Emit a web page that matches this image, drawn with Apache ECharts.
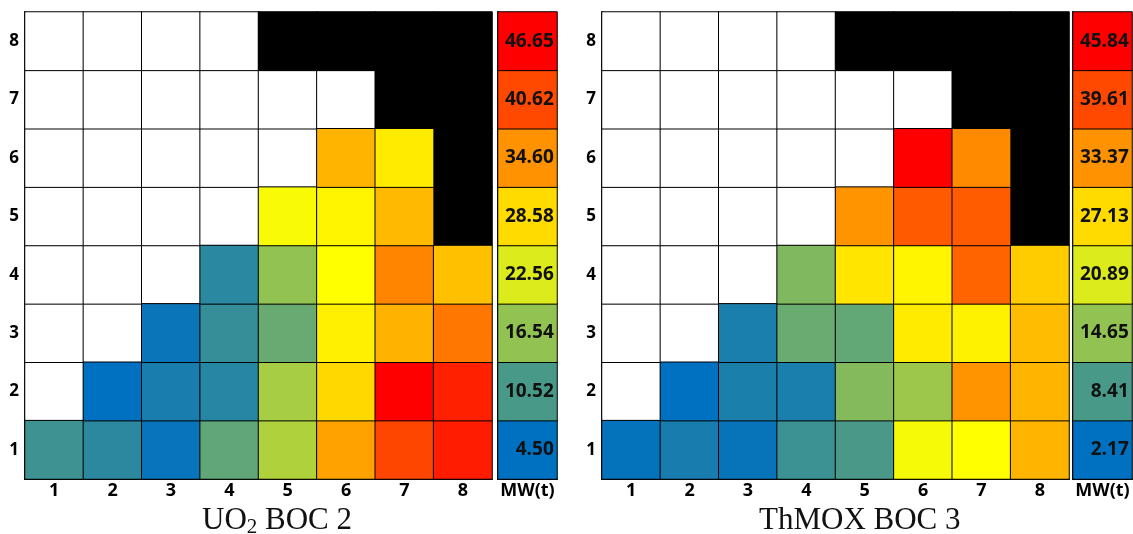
<!DOCTYPE html>
<html>
<head>
<meta charset="utf-8">
<script src="https://cdn.jsdelivr.net/npm/echarts@6/dist/echarts.min.js"></script>
<style>
html,body{margin:0;padding:0;background:#fff;}
#chart{width:1133px;height:534px;}
</style>
</head>
<body>
<div id="chart"></div>
<script>
// ---- DATA ----
const xCats = ['1', '2', '3', '4', '5', '6', '7', '8'];
const yCats = ['1', '2', '3', '4', '5', '6', '7', '8'];
const unitLabel = 'MW(t)';

// Colour-scale tick labels (bottom to top)
const uo2Scale = [4.50, 10.52, 16.54, 22.56, 28.58, 34.60, 40.62, 46.65];
const thmoxScale = [2.17, 8.41, 14.65, 20.89, 27.13, 33.37, 39.61, 45.84];

// Assembly power, rows y=1 (bottom) .. y=8 (top), columns x=1..8; null = no value
const uo2Power = [
  [9.6, 8.1, 5.1, 12.4, 19.0, 33.3, 40.9, 44.3],
  [null, 4.5, 6.6, 7.7, 18.2, 28.8, 46.65, 44.0],
  [null, null, 5.3, 8.9, 13.1, 26.9, 31.9, 36.9],
  [null, null, null, 8.0, 16.6, 25.6, 35.7, 30.8],
  [null, null, null, null, 25.0, 26.4, 31.3, null],
  [null, null, null, null, null, 31.7, 27.2, null],
  [null, null, null, null, null, null, null, null],
  [null, null, null, null, null, null, null, null]
];
const thmoxPower = [
  [2.6, 4.2, 2.8, 7.3, 8.5, 23.2, 24.0, 30.3],
  [null, 2.17, 4.5, 4.4, 13.5, 15.5, 33.2, 30.3],
  [null, null, 4.4, 11.2, 10.6, 25.7, 25.1, 29.7],
  [null, null, null, 13.1, 26.2, 24.9, 37.3, 28.4],
  [null, null, null, null, 33.2, 38.1, 38.0, null],
  [null, null, null, null, null, 45.84, 34.0, null],
  [null, null, null, null, null, null, null, null],
  [null, null, null, null, null, null, null, null]
];
// Cells outside the core (drawn black), as [x, y]
const outsideCells = [[5, 8], [6, 8], [7, 8], [8, 8], [7, 7], [8, 7], [8, 6], [8, 5]];

const titles = [
  '{a|UO}{s|2}{a| BOC 2}',
  '{a|ThMOX BOC 3}'
];

// ---- BUILD ----
function cellData(power) {
  const d = [];
  power.forEach((row, r) => row.forEach((v, c) => { if (v != null) d.push([c, r, v]); }));
  return d;
}
function maskData(power) {
  const d = [];
  power.forEach((row, r) => row.forEach((v, c) => {
    if (v == null) {
      const out = outsideCells.some(p => p[0] === c + 1 && p[1] === r + 1);
      d.push([c, r, out ? 1 : 0]);
    }
  }));
  return d;
}
function scaleData(scale) { return scale.map((v, i) => [0, i, v]); }

const FONT = 'Open Sans';
const cellStyle = { borderColor: '#000', borderWidth: 1 };
const scaleColors = ['#0070C0', '#FFFF00', '#FF0000'];

const grids = [
  { left: 25, top: 12, width: 467, height: 467 },
  { left: 498, top: 12, width: 59, height: 467 },
  { left: 602, top: 12, width: 467, height: 467 },
  { left: 1073, top: 12, width: 59, height: 467 }
];

function xAx(gi, data, size) {
  return {
    type: 'category', gridIndex: gi, data: data,
    axisTick: { show: false },
    axisLine: { lineStyle: { color: '#000', width: 2 } },
    axisLabel: { color: '#000', fontFamily: FONT, fontWeight: 'bold', fontSize: size, margin: 3 },
    splitLine: { show: false }, splitArea: { show: false }
  };
}
function yAx(gi, showLabels) {
  return {
    type: 'category', gridIndex: gi, data: yCats,
    axisTick: { show: false },
    axisLine: { lineStyle: { color: '#000', width: 2 } },
    axisLabel: { show: showLabels, color: '#000', fontFamily: FONT, fontWeight: 'bold', fontSize: 17, margin: 6 },
    splitLine: { show: false }, splitArea: { show: false }
  };
}
function hm(gi, data, withLabel) {
  const s = {
    type: 'heatmap', xAxisIndex: gi, yAxisIndex: gi, data: data,
    itemStyle: cellStyle, emphasis: { disabled: true }, silent: true
  };
  if (withLabel) {
    s.label = {
      show: true, position: 'insideRight', distance: 4,
      formatter: p => p.value[2].toFixed(2),
      color: '#111', fontFamily: FONT, fontWeight: 'bold', fontSize: 19
    };
  }
  return s;
}

const titleRich = {
  a: { fontFamily: 'Liberation Serif', fontSize: 31, fontWeight: 'normal', color: '#111' },
  s: { fontFamily: 'Liberation Serif', fontSize: 21, fontWeight: 'normal', color: '#111', verticalAlign: 'bottom', padding: [0, 0, -2, 0] }
};

const option = {
  backgroundColor: '#fff',
  animation: false,
  title: [
    { text: titles[0], left: 202, top: 505, padding: 0, textStyle: { fontWeight: 'normal', rich: titleRich } },
    { text: titles[1], left: 759, top: 505, padding: 0, textStyle: { fontWeight: 'normal', rich: titleRich } }
  ],
  grid: grids,
  xAxis: [xAx(0, xCats, 18), xAx(1, [unitLabel], 18), xAx(2, xCats, 18), xAx(3, [unitLabel], 18)],
  yAxis: [yAx(0, true), yAx(1, false), yAx(2, true), yAx(3, false)],
  visualMap: [
    { type: 'continuous', show: false, seriesIndex: [1, 2], dimension: 2,
      min: uo2Scale[0], max: uo2Scale[uo2Scale.length - 1], inRange: { color: scaleColors } },
    { type: 'continuous', show: false, seriesIndex: [4, 5], dimension: 2,
      min: thmoxScale[0], max: thmoxScale[thmoxScale.length - 1], inRange: { color: scaleColors } },
    { type: 'piecewise', show: false, seriesIndex: [0, 3], dimension: 2,
      pieces: [{ value: 0, color: '#ffffff' }, { value: 1, color: '#000000' }] }
  ],
  series: [
    hm(0, maskData(uo2Power), false),
    hm(0, cellData(uo2Power), false),
    hm(1, scaleData(uo2Scale), true),
    hm(2, maskData(thmoxPower), false),
    hm(2, cellData(thmoxPower), false),
    hm(3, scaleData(thmoxScale), true)
  ]
};

const chart = echarts.init(document.getElementById('chart'), null, { renderer: 'canvas' });
chart.setOption(option);
</script>
</body>
</html>
